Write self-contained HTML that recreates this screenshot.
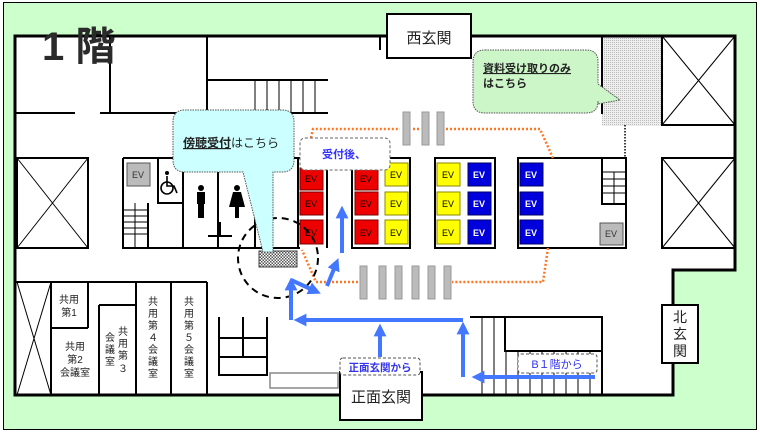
<!DOCTYPE html>
<html><head><meta charset="utf-8"><style>
html,body{margin:0;padding:0;background:#fff}
svg{display:block}
text{font-family:"Liberation Sans","Noto Sans CJK JP",sans-serif}
</style></head><body>
<svg width="760" height="433" viewBox="0 0 760 433" xmlns="http://www.w3.org/2000/svg">
<defs>
<pattern id="hat" width="3" height="3" patternUnits="userSpaceOnUse"><rect width="3" height="3" fill="#fff"/><rect width="1.5" height="1.5" fill="#555"/><rect x="1.5" y="1.5" width="1.5" height="1.5" fill="#555"/></pattern>
<pattern id="gr" width="2" height="2" patternUnits="userSpaceOnUse"><rect width="2" height="2" fill="#eee"/><rect width="1" height="1" fill="#bbb"/></pattern>
<marker id="ah" viewBox="0 0 10 10" refX="5" refY="5" markerWidth="3.2" markerHeight="3.2" orient="auto"><path d="M0,0 L10,5 L0,10 z" fill="#4477ff"/></marker>
</defs>
<rect x="0" y="0" width="760" height="433" fill="#fff"/>
<rect x="3.5" y="2.5" width="753" height="427" fill="#ccffcc" stroke="#000" stroke-width="1"/>
<path d="M15,36 L735,36 L735,270 L673,270 L673,395 L15,395 Z" fill="#fff"/>
<rect x="602" y="36" width="60" height="90" fill="url(#gr)"/>
<g stroke="#000" stroke-width="3" fill="none">
<path d="M15,36 L735,36 L735,270 L673,270 L673,395 L15,395 Z"/>
</g>
<g stroke="#000" stroke-width="2" fill="none">
<path d="M207,36 V113 M110,36 V113 M15,113 H75 M100,113 H328 M207,80 H328"/>
<rect x="17" y="158" width="71" height="90"/>
<path d="M123,158 V248 H300 M123,158 H300 M148,203 V248 M158,158 V203 H183 M183,158 V248 M218,158 V248 M255,158 V248"/>
<path d="M208,236 H232 M220,236 V222"/>
<path d="M298,158 V248 M327,158 V248"/>
<rect x="352" y="158" width="58" height="90"/>
<rect x="435" y="158" width="60" height="90"/>
<rect x="518" y="158" width="108" height="90"/>
<rect x="602" y="158" width="24" height="46"/>
<rect x="662" y="36" width="73" height="89"/>
<rect x="662" y="158" width="73" height="90"/>
<path d="M602,36 V113 H603 M380,36 V50"/>
<path d="M15,282 H207 M51,282 V395 M51,328 H88 M88,282 V328 M99,305 V395 M99,305 H136 M136,282 V395 M171,282 V395 M207,282 V395"/>
<path d="M219,317 V375 H267 V317 M219,338 H267 M219,357 H267 M243,317 V357"/>
<path d="M470,317 H602 V395 M505,317 V351 H602"/>
<rect x="340" y="372" width="82" height="48" fill="#fff"/>
<rect x="662" y="305" width="36" height="58" fill="#fff"/>
<rect x="387" y="14" width="84" height="44" fill="#fff"/>
</g>
<g stroke="#000" stroke-width="1" fill="none">
<path d="M17,158 L88,248 M88,158 L17,248 M662,36 L735,125 M735,36 L662,125 M662,158 L735,248 M735,158 L662,248 M17,282 L51,395 M51,282 L17,395"/>
<path d="M255,80 V113 M267,80 V113 M279,80 V113 M291,80 V113 M303,80 V113 M315,80 V113"/>
<path d="M123,210 H148 M123,216 H148 M123,222 H148 M123,228 H148 M123,234 H148 M135,203 V248"/>
<path d="M602,172 H626 M602,179 H626 M602,186 H626 M602,193 H626 M614,172 V204"/>
<path d="M482,317 V395 M494,317 V395 M506,351 V395 M518,351 V395 M530,351 V395 M542,351 V395 M554,351 V395 M566,351 V395 M578,351 V395 M590,351 V395"/>
</g>
<path d="M625,125 V158" stroke="#000" stroke-width="1.5" stroke-dasharray="1.5,1.5"/>
<rect x="270" y="373" width="68" height="15" fill="#fff" stroke="#888" stroke-width="1.5"/>
<g fill="#bbb" stroke="#999" stroke-width="1">
<rect x="403" y="112" width="7" height="33"/><rect x="422" y="112" width="7" height="33"/><rect x="437" y="112" width="7" height="33"/>
<rect x="360" y="266" width="7" height="33"/><rect x="379" y="266" width="7" height="33"/><rect x="395" y="266" width="7" height="33"/><rect x="412" y="266" width="7" height="33"/><rect x="428" y="266" width="7" height="33"/><rect x="444" y="266" width="7" height="33"/>
</g>
<g stroke="#ff7722" stroke-width="2.5" fill="none" stroke-dasharray="2,2">
<path d="M311,138 L313,129 H400 M413,129 H420 M446,129 H540 L553,158"/>
<path d="M548,248 L543,282 H452 M358,282 H316 L302,250"/>
</g>
<g font-size="9" text-anchor="middle" stroke-width="1">
<g fill="#ee0000" stroke="#770000">
<rect x="300" y="168" width="23" height="22"/><rect x="300" y="192" width="23" height="23"/><rect x="300" y="220" width="23" height="24"/>
<rect x="355" y="168" width="23" height="22"/><rect x="355" y="192" width="23" height="23"/><rect x="355" y="220" width="23" height="24"/>
</g>
<g fill="#ffff00" stroke="#888800">
<rect x="385" y="163" width="23" height="23"/><rect x="385" y="192" width="23" height="23"/><rect x="385" y="220" width="23" height="24"/>
<rect x="437" y="163" width="23" height="23"/><rect x="437" y="192" width="23" height="23"/><rect x="437" y="220" width="23" height="24"/>
</g>
<g fill="#0000dd" stroke="#000066">
<rect x="468" y="163" width="23" height="23"/><rect x="468" y="192" width="23" height="23"/><rect x="468" y="220" width="23" height="24"/>
<rect x="520" y="163" width="23" height="23"/><rect x="520" y="192" width="23" height="23"/><rect x="520" y="220" width="23" height="24"/>
</g>
<g fill="#bbb" stroke="#555"><rect x="127" y="163" width="23" height="23"/><rect x="600" y="223" width="23" height="22"/></g>
<g fill="#000"><text x="311" y="182">EV</text><text x="311" y="207">EV</text><text x="311" y="236">EV</text>
<text x="366" y="182">EV</text><text x="366" y="207">EV</text><text x="366" y="236">EV</text>
<text x="396" y="178">EV</text><text x="396" y="207">EV</text><text x="396" y="236">EV</text>
<text x="448" y="178">EV</text><text x="448" y="207">EV</text><text x="448" y="236">EV</text>
<text x="138" y="178" fill="#333">EV</text><text x="611" y="237" fill="#333">EV</text></g>
<g fill="#fff" font-weight="bold"><text x="479" y="178">EV</text><text x="479" y="207">EV</text><text x="479" y="236">EV</text>
<text x="531" y="178">EV</text><text x="531" y="207">EV</text><text x="531" y="236">EV</text></g>
</g>
<!-- wheelchair -->
<g stroke="#000" stroke-width="1.6" fill="none">
<circle cx="167" cy="188" r="6"/>
<path d="M167,176 V186 H174 L177,193"/>
</g>
<circle cx="167" cy="173" r="2" fill="#000"/>
<g fill="#000"><circle cx="201" cy="188" r="3"/><rect x="197" y="192" width="8" height="12"/><rect x="198" y="203" width="6" height="15"/>
<circle cx="237" cy="188" r="3"/><path d="M233,192 H241 L245,207 H229 Z"/><rect x="235" y="206" width="4" height="12"/></g>
<circle cx="278" cy="258" r="40" fill="none" stroke="#000" stroke-width="2" stroke-dasharray="7,5"/>
<rect x="259" y="251" width="38" height="16" fill="url(#hat)" stroke="#444" stroke-width="1"/>
<path d="M185,110 H282 Q294,110 294,122 V160 Q294,172 282,172 H273 L273,252 L263,252 L243,172 H185 Q173,172 173,160 V122 Q173,110 185,110 Z" fill="#ccffff" stroke="#555" stroke-width="1" stroke-dasharray="1.5,1"/>
<text x="183" y="147" font-size="12" fill="#222"><tspan text-decoration="underline" font-weight="bold">傍聴受付</tspan>はこちら</text>
<path d="M485,50 H586 Q598,50 598,62 V84 L620,100 L598,104 V101 Q598,113 586,113 H485 Q473,113 473,101 V62 Q473,50 485,50 Z" fill="#ccf5c8" stroke="#555" stroke-width="1" stroke-dasharray="1.5,1"/>
<text x="483" y="72" font-size="11" font-weight="bold" fill="#222" text-decoration="underline">資料受け取りのみ</text>
<text x="483" y="87" font-size="11" font-weight="bold" fill="#222">はこちら</text>
<rect x="300" y="138" width="90" height="32" rx="5" fill="#fff" stroke="#666" stroke-width="1" stroke-dasharray="3,2"/>
<text x="322" y="158" font-size="11" fill="#3333ff" font-weight="bold">受付後、</text>
<rect x="340" y="358" width="80" height="17" rx="3" fill="#fff" stroke="#555" stroke-width="1" stroke-dasharray="3,2"/>
<text x="380" y="371" font-size="10.5" fill="#3333ee" text-anchor="middle" font-weight="bold">正面玄関から</text>
<rect x="518" y="354" width="79" height="19" rx="3" fill="#fff" stroke="#555" stroke-width="1" stroke-dasharray="3,2"/>
<text x="557" y="368" font-size="11" fill="#3333ee" text-anchor="middle">B１階から</text>
<g stroke="#4477ff" stroke-width="4" fill="none" marker-end="url(#ah)">
<path d="M595,377 H478"/>
<path d="M463,377 V328"/>
<path d="M463,320 H300"/>
<path d="M380,357 V330"/>
<path d="M291,320 V284"/>
<path d="M291,280 L315,291"/>
<path d="M327,286 L336,264"/>
<path d="M342,253 L342,212"/>
</g>
<text x="42" y="60" font-size="40" font-weight="bold" fill="#2a2a2a" font-family="Liberation Serif,'Noto Serif CJK SC',serif">1 階</text>
<text x="429" y="43" font-size="15" fill="#222" text-anchor="middle">西玄関</text>
<text x="381" y="402" font-size="15" fill="#222" text-anchor="middle">正面玄関</text>
<g font-size="14" fill="#222" text-anchor="middle"><text x="680" y="322">北</text><text x="680" y="339">玄</text><text x="680" y="356">関</text></g>
<g font-size="10" fill="#222" text-anchor="middle">
<text x="69" y="303">共用</text><text x="69" y="316">第1</text>
<text x="75" y="350">共用</text><text x="75" y="363">第2</text><text x="75" y="376">会議室</text>
<text x="123" y="335">共</text><text x="123" y="347">用</text><text x="123" y="359">第</text><text x="123" y="372">３</text>
<text x="110" y="341">会</text><text x="110" y="353">議</text><text x="110" y="365">室</text>
<text x="153" y="305">共</text><text x="153" y="317">用</text><text x="153" y="329">第</text><text x="153" y="341">４</text><text x="153" y="353">会</text><text x="153" y="365">議</text><text x="153" y="377">室</text>
<text x="189" y="305">共</text><text x="189" y="317">用</text><text x="189" y="329">第</text><text x="189" y="341">５</text><text x="189" y="353">会</text><text x="189" y="365">議</text><text x="189" y="377">室</text>
</g>
</svg>
</body></html>
